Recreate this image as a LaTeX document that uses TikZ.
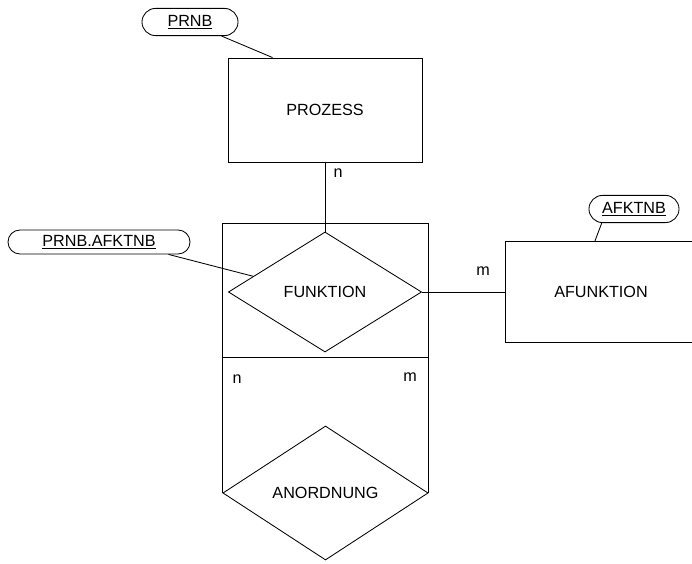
\documentclass[tikz,border=0pt]{standalone}
\usepackage{fontspec}
\setmainfont{Liberation Sans}
\usetikzlibrary{shapes.geometric,calc}

\begin{document}
\begin{tikzpicture}[x=0.025cm, y=-0.025cm, line width=0.6pt,
	font=\fontsize{11.5}{13}\selectfont,
	entity/.style={draw, rectangle, inner sep=0pt},
	relation/.style={draw, diamond, inner sep=0pt},
	keyattr/.style={draw, rectangle, rounded corners=0.34cm, minimum height=0.68cm, inner sep=0pt}]
	\useasboundingbox (0,0) rectangle (692,564);
	% entities and relationships
	\node[keyattr, minimum width=2.4cm] (prnb) at (190,22) {\underline{PRNB}};
	\node[entity, minimum width=4.85cm, minimum height=2.6cm] (prozess) at (325,110) {PROZESS};
	\node[draw, minimum width=5.13cm, minimum height=3.35cm, inner sep=0pt] (aggr) at (325.5,290) {};
	\node[relation, minimum width=4.83cm, minimum height=3cm] (funktion) at (325,292) {FUNKTION};
	\node[keyattr, minimum width=4.55cm, minimum height=0.6cm, rounded corners=0.3cm] (prafk) at (99,242) {\underline{PRNB.AFKTNB}};
	\node[entity, minimum width=4.8cm, minimum height=2.53cm] (afunktion) at (601,292) {AFUNKTION};
	\node[keyattr, minimum width=2.25cm] (afktnb) at (634,209) {\underline{AFKTNB}};
	\node[relation, minimum width=5.13cm, minimum height=3.35cm] (anordnung) at (325.5,493) {ANORDNUNG};
	% connectors
	\draw (prnb.-24) -- (prozess.135.5);
	\draw (prozess.south) -- (funktion.north);
	\draw ($(prafk.south)!0.76!(prafk.south east)$) -- ($(funktion.west)!0.26!(funktion.north)$);
	\draw (funktion.east) -- (afunktion.west);
	\draw ($(afktnb.south)!0.71!(afktnb.south west)$) -- ($(afunktion.north)!0.0625!(afunktion.north west)$);
	\draw (aggr.south west) -- (anordnung.west);
	\draw (aggr.south east) -- (anordnung.east);
	% cardinalities
	\node (n1) at (338,173) {n};
	\node (m1) at (483,271) {m};
	\node (n2) at (237,379) {n};
	\node (m2) at (410,377) {m};
\end{tikzpicture}
\end{document}
